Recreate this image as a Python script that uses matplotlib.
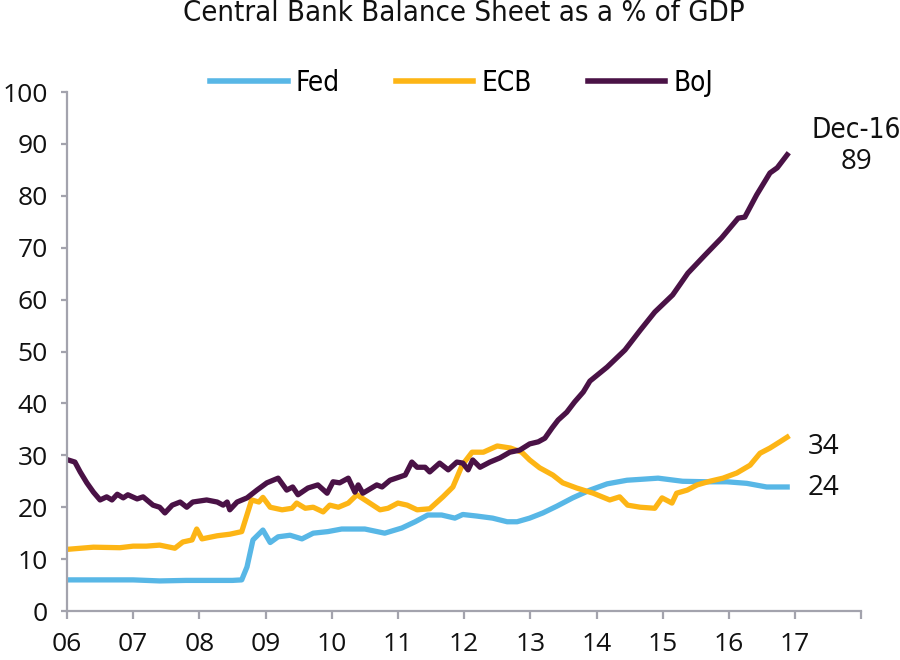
import matplotlib
matplotlib.use("Agg")
import matplotlib.pyplot as plt

# values (decimal year, % of GDP)
fed_x = [2006.0, 2006.5, 2007.0, 2007.4, 2007.8, 2008.2, 2008.5, 2008.64, 2008.72, 2008.81,
         2008.96, 2009.07, 2009.19, 2009.37, 2009.55, 2009.72, 2009.94, 2010.15, 2010.5, 2010.8,
         2011.06, 2011.26, 2011.45, 2011.66, 2011.86, 2011.98, 2012.19, 2012.43, 2012.65, 2012.8,
         2012.99, 2013.19, 2013.4, 2013.64, 2013.9, 2014.16, 2014.46, 2014.7, 2014.93, 2015.3,
         2015.67, 2015.97, 2016.27, 2016.57, 2016.88]
fed_y = [6.0, 6.0, 6.0, 5.8, 5.9, 5.9, 5.9, 6.0, 8.5, 13.7,
         15.6, 13.2, 14.3, 14.6, 13.9, 15.0, 15.3, 15.8, 15.8, 15.0,
         16.0, 17.2, 18.5, 18.5, 17.9, 18.6, 18.3, 17.9, 17.2, 17.2,
         17.9, 18.9, 20.2, 21.8, 23.3, 24.5, 25.2, 25.4, 25.6, 25.0,
         24.9, 24.9, 24.6, 23.9, 23.9]

ecb_x = [2006.02, 2006.4, 2006.8, 2007.0, 2007.2, 2007.4, 2007.63, 2007.75, 2007.89, 2007.96,
         2008.04, 2008.27, 2008.46, 2008.64, 2008.79, 2008.9, 2008.96, 2009.07, 2009.25, 2009.4,
         2009.47, 2009.6, 2009.72, 2009.87, 2009.97, 2010.1, 2010.25, 2010.38, 2010.55, 2010.73,
         2010.85, 2011.0, 2011.14, 2011.29, 2011.48, 2011.68, 2011.83, 2011.97, 2012.12, 2012.29,
         2012.5, 2012.7, 2012.87, 2012.99, 2013.14, 2013.34, 2013.49, 2013.7, 2013.95, 2014.2,
         2014.35, 2014.47, 2014.66, 2014.88, 2014.99, 2015.14, 2015.21, 2015.37, 2015.52, 2015.71,
         2015.91, 2016.12, 2016.32, 2016.47, 2016.62, 2016.77, 2016.88]
ecb_y = [11.9, 12.3, 12.2, 12.5, 12.5, 12.7, 12.1, 13.3, 13.7, 15.8,
         13.9, 14.5, 14.8, 15.3, 21.4, 21.0, 21.9, 20.0, 19.5, 19.8,
         20.8, 19.8, 20.0, 19.1, 20.4, 20.0, 20.8, 22.4, 21.0, 19.5,
         19.8, 20.8, 20.4, 19.5, 19.7, 22.0, 23.9, 28.1, 30.6, 30.6,
         31.8, 31.4, 30.6, 29.1, 27.6, 26.2, 24.7, 23.7, 22.7, 21.4,
         22.0, 20.4, 20.0, 19.8, 21.8, 20.8, 22.7, 23.3, 24.3, 25.0,
         25.6, 26.6, 28.1, 30.4, 31.4, 32.6, 33.5]

boj_x = [2006.02, 2006.12, 2006.2, 2006.3, 2006.4, 2006.5, 2006.6, 2006.68, 2006.76, 2006.85,
         2006.92, 2007.06, 2007.15, 2007.3, 2007.4, 2007.48, 2007.59, 2007.71, 2007.81, 2007.9,
         2008.11, 2008.27, 2008.36, 2008.42, 2008.46, 2008.57, 2008.72, 2008.87, 2009.02, 2009.19,
         2009.32, 2009.41, 2009.49, 2009.64, 2009.79, 2009.93, 2010.02, 2010.12, 2010.25, 2010.35,
         2010.4, 2010.47, 2010.68, 2010.76, 2010.88, 2011.11, 2011.21, 2011.29, 2011.41, 2011.48,
         2011.63, 2011.76, 2011.89, 2011.98, 2012.06, 2012.13, 2012.24, 2012.39, 2012.54, 2012.69,
         2012.84, 2012.99, 2013.12, 2013.22, 2013.33, 2013.42, 2013.55, 2013.67, 2013.8, 2013.9,
         2014.16, 2014.43, 2014.66, 2014.88, 2015.15, 2015.38, 2015.64, 2015.89, 2016.14, 2016.24,
         2016.42, 2016.62, 2016.73, 2016.88]
boj_y = [29.1, 28.7, 26.8, 24.7, 22.9, 21.4, 22.0, 21.4, 22.5, 21.8,
         22.4, 21.6, 22.0, 20.4, 20.0, 18.9, 20.4, 21.0, 20.0, 21.0,
         21.4, 21.0, 20.4, 21.0, 19.5, 21.0, 21.8, 23.3, 24.7, 25.6,
         23.3, 23.9, 22.4, 23.7, 24.3, 22.7, 24.9, 24.7, 25.6, 22.9,
         24.3, 22.7, 24.3, 23.9, 25.2, 26.2, 28.7, 27.7, 27.7, 26.8,
         28.5, 27.2, 28.7, 28.5, 27.2, 29.1, 27.7, 28.7, 29.5, 30.6,
         31.0, 32.2, 32.6, 33.3, 35.3, 36.8, 38.3, 40.3, 42.2, 44.3,
         47.0, 50.3, 54.1, 57.6, 60.9, 65.1, 68.6, 71.9, 75.7, 75.9,
         80.2, 84.4, 85.4, 87.9]

years = list(range(2006, 2019))
year_labels = ["06", "07", "08", "09", "10", "11", "12", "13", "14", "15", "16", "17", ""]

fed_color = "#58B7E6"
ecb_color = "#FDB515"
boj_color = "#4A1246"
axis_color = "#A3A3AD"
text_color = "#111111"

fig = plt.figure(figsize=(9, 6.6), dpi=100)
ax = fig.add_axes([0.0744, 0.0742, 0.8826, 0.7864])

ax.plot(fed_x, fed_y, color=fed_color, lw=3.8, label="Fed", solid_joinstyle="round")
ax.plot(ecb_x, ecb_y, color=ecb_color, lw=3.8, label="ECB", solid_joinstyle="round")
ax.plot(boj_x, boj_y, color=boj_color, lw=3.8, label="BoJ", solid_joinstyle="round")

ax.set_xlim(2006, 2018)
ax.set_ylim(0, 100)
ax.set_xticks(years)
ax.set_xticklabels(year_labels)
ax.set_yticks(range(0, 101, 10))

for s in ["top", "right"]:
    ax.spines[s].set_visible(False)
for s in ["left", "bottom"]:
    ax.spines[s].set_color(axis_color)
    ax.spines[s].set_linewidth(1.6)
ax.tick_params(axis="x", direction="out", length=6, width=1.6, color=axis_color, pad=9)
ax.tick_params(axis="y", direction="out", length=4, width=1.6, color=axis_color, pad=10)
for lab in ax.get_xticklabels() + ax.get_yticklabels():
    lab.set_fontfamily("Open Sans")
    lab.set_fontsize(19)
    lab.set_color(text_color)

fig.text(0.5156, 0.981, "Central Bank Balance Sheet as a % of GDP", ha="center", va="center",
         fontsize=21, family="DejaVu Sans", stretch="condensed", color=text_color)

leg = fig.legend(loc="center", bbox_to_anchor=(0.513, 0.874), ncol=3, frameon=False,
                 handlelength=2.8, handletextpad=0.3, columnspacing=2.0,
                 prop={"family": "DejaVu Sans", "stretch": "condensed", "size": 20})
for line in leg.get_lines():
    line.set_linewidth(4)

ax.text(2017.92, 92.7, "Dec-16", ha="center", va="center", fontsize=20, family="DejaVu Sans",
        stretch="condensed", color=text_color, clip_on=False)
ax.text(2017.92, 86.5, "89", ha="center", va="center", fontsize=20, family="Open Sans",
        color=text_color, clip_on=False)
ax.text(2017.19, 31.6, "34", ha="left", va="center", fontsize=20, family="Open Sans", color=text_color)
ax.text(2017.19, 23.7, "24", ha="left", va="center", fontsize=20, family="Open Sans", color=text_color)

fig.savefig("out.png", dpi=100)
